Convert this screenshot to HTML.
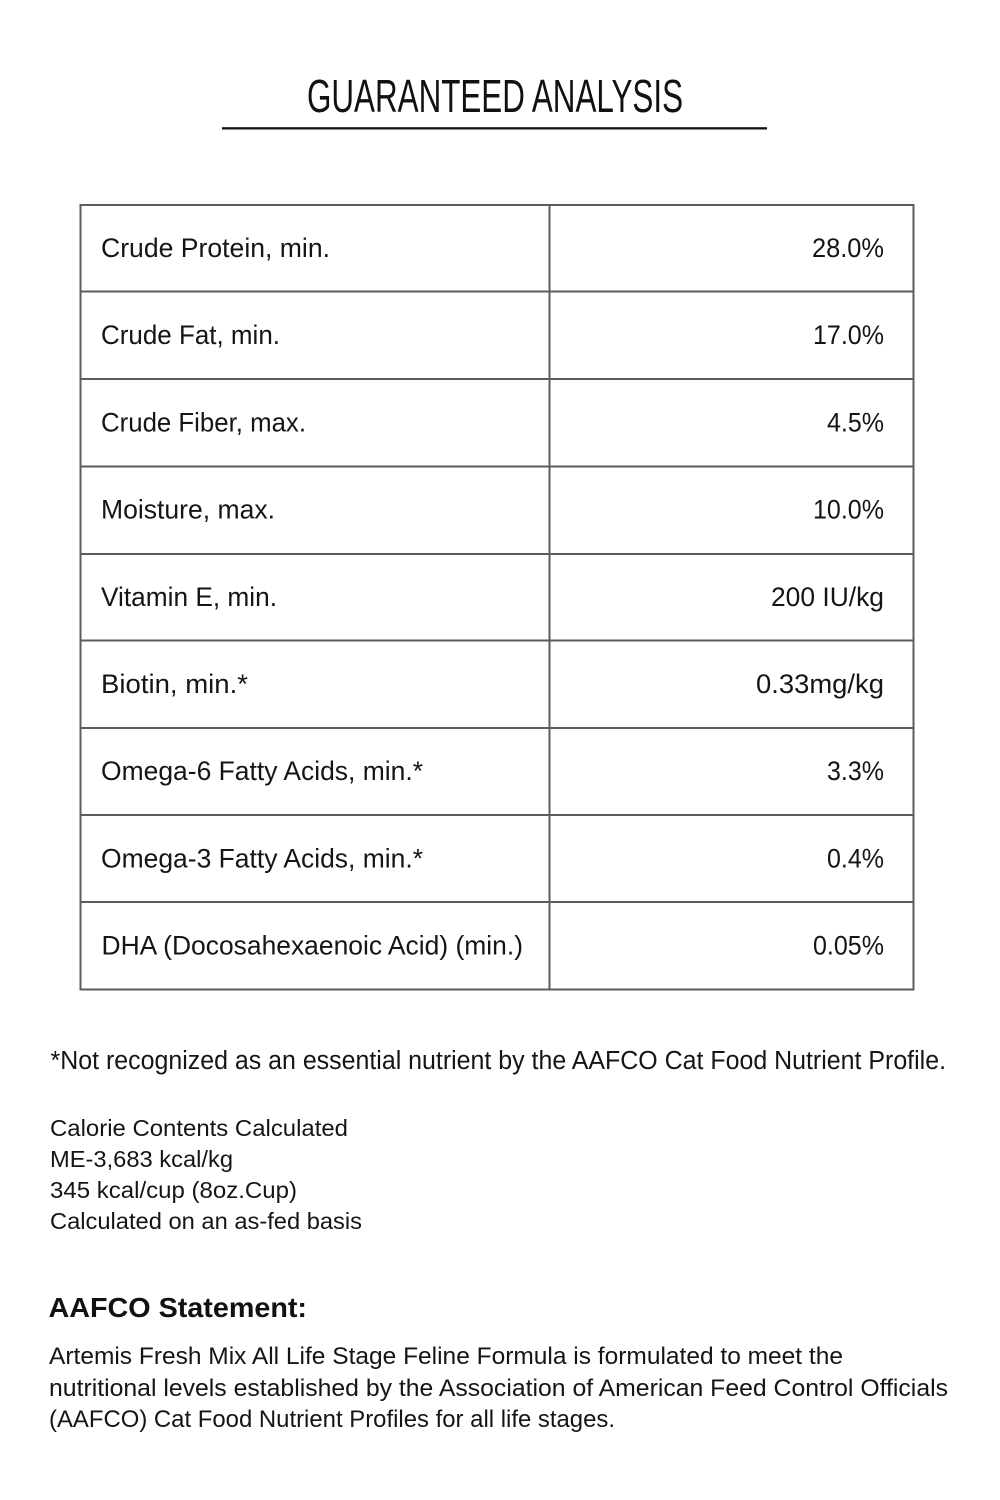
<!DOCTYPE html>
<html>
<head>
<meta charset="utf-8">
<style>
  html, body { margin: 0; padding: 0; background: #ffffff; }
  svg { display: block; }
  text { font-family: "Liberation Sans", "DejaVu Sans", sans-serif; fill: #151515; }
</style>
</head>
<body>
<svg width="1000" height="1500" viewBox="0 0 1000 1500" xmlns="http://www.w3.org/2000/svg">
  <rect x="0" y="0" width="1000" height="1500" fill="#ffffff"/>

  <!-- Title -->
  <text x="307" y="112" font-size="46" textLength="376" lengthAdjust="spacingAndGlyphs" style="fill:#111">GUARANTEED ANALYSIS</text>
  <rect x="222" y="127.2" width="545" height="2.3" fill="#111"/>

  <!-- Table grid -->
  <g stroke="#5c5c5c" stroke-width="2" fill="none">
    <rect x="80.5" y="205" width="833" height="784.5"/>
    <line x1="549.5" y1="205" x2="549.5" y2="989.5"/>
    <line x1="80.5" y1="291.5" x2="913.5" y2="291.5"/>
    <line x1="80.5" y1="379" x2="913.5" y2="379"/>
    <line x1="80.5" y1="466.5" x2="913.5" y2="466.5"/>
    <line x1="80.5" y1="554" x2="913.5" y2="554"/>
    <line x1="80.5" y1="640.5" x2="913.5" y2="640.5"/>
    <line x1="80.5" y1="728" x2="913.5" y2="728"/>
    <line x1="80.5" y1="815" x2="913.5" y2="815"/>
    <line x1="80.5" y1="902" x2="913.5" y2="902"/>
  </g>

  <!-- Left column -->
  <g font-size="26.5">
    <text x="101" y="257" textLength="229" lengthAdjust="spacingAndGlyphs">Crude Protein, min.</text>
    <text x="101" y="344" textLength="179" lengthAdjust="spacingAndGlyphs">Crude Fat, min.</text>
    <text x="101" y="431.5" textLength="205" lengthAdjust="spacingAndGlyphs">Crude Fiber, max.</text>
    <text x="101" y="518.5" textLength="174" lengthAdjust="spacingAndGlyphs">Moisture, max.</text>
    <text x="101" y="606" textLength="176" lengthAdjust="spacingAndGlyphs">Vitamin E, min.</text>
    <text x="101" y="693" textLength="147" lengthAdjust="spacingAndGlyphs">Biotin, min.*</text>
    <text x="101" y="780" textLength="322" lengthAdjust="spacingAndGlyphs">Omega-6 Fatty Acids, min.*</text>
    <text x="101" y="867.5" textLength="322" lengthAdjust="spacingAndGlyphs">Omega-3 Fatty Acids, min.*</text>
    <text x="101.5" y="954.5" textLength="421.5" lengthAdjust="spacingAndGlyphs">DHA (Docosahexaenoic Acid) (min.)</text>
  </g>

  <!-- Right column -->
  <g font-size="26.5">
    <text x="812" y="257" textLength="72" lengthAdjust="spacingAndGlyphs">28.0%</text>
    <text x="813" y="344" textLength="71" lengthAdjust="spacingAndGlyphs">17.0%</text>
    <text x="827" y="431.5" textLength="57" lengthAdjust="spacingAndGlyphs">4.5%</text>
    <text x="813" y="518.5" textLength="71" lengthAdjust="spacingAndGlyphs">10.0%</text>
    <text x="771" y="606" textLength="113" lengthAdjust="spacingAndGlyphs">200 IU/kg</text>
    <text x="756" y="693" textLength="128" lengthAdjust="spacingAndGlyphs">0.33mg/kg</text>
    <text x="827" y="780" textLength="57" lengthAdjust="spacingAndGlyphs">3.3%</text>
    <text x="827" y="867.5" textLength="57" lengthAdjust="spacingAndGlyphs">0.4%</text>
    <text x="813" y="954.5" textLength="71" lengthAdjust="spacingAndGlyphs">0.05%</text>
  </g>

  <!-- Footnote -->
  <text x="50.5" y="1069" font-size="25.5" textLength="895.5" lengthAdjust="spacingAndGlyphs">*Not recognized as an essential nutrient by the AAFCO Cat Food Nutrient Profile.</text>

  <!-- Calorie block -->
  <g font-size="23.5">
    <text x="50" y="1136" textLength="298" lengthAdjust="spacingAndGlyphs">Calorie Contents Calculated</text>
    <text x="50" y="1167" textLength="183" lengthAdjust="spacingAndGlyphs">ME-3,683 kcal/kg</text>
    <text x="50" y="1198" textLength="247" lengthAdjust="spacingAndGlyphs">345 kcal/cup (8oz.Cup)</text>
    <text x="50" y="1229" textLength="312" lengthAdjust="spacingAndGlyphs">Calculated on an as-fed basis</text>
  </g>

  <!-- AAFCO Statement -->
  <text x="48.5" y="1317" font-size="28" font-weight="bold" textLength="258.5" lengthAdjust="spacingAndGlyphs" style="fill:#111">AAFCO Statement:</text>

  <g font-size="24.5">
    <text x="49" y="1364" textLength="794" lengthAdjust="spacingAndGlyphs">Artemis Fresh Mix All Life Stage Feline Formula is formulated to meet the</text>
    <text x="49" y="1396" textLength="899" lengthAdjust="spacingAndGlyphs">nutritional levels established by the Association of American Feed Control Officials</text>
    <text x="49" y="1427" textLength="566" lengthAdjust="spacingAndGlyphs">(AAFCO) Cat Food Nutrient Profiles for all life stages.</text>
  </g>
</svg>
</body>
</html>
